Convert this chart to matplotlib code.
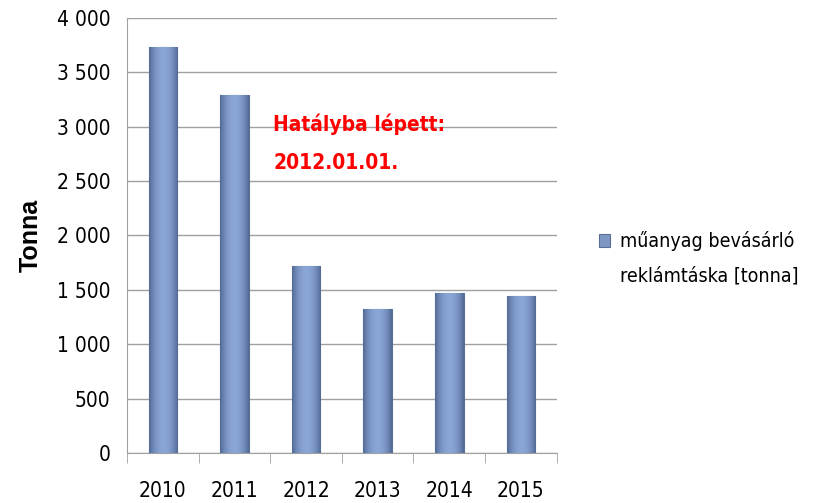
import matplotlib
matplotlib.use("Agg")
import matplotlib.pyplot as plt
from matplotlib import font_manager
from matplotlib.colors import LinearSegmentedColormap
from matplotlib.legend_handler import HandlerPatch
from matplotlib.patches import Rectangle
import numpy as np

years = ['2010', '2011', '2012', '2013', '2014', '2015']
tonna = [3730, 3290, 1720, 1325, 1470, 1445]
series_name = 'műanyag bevásárló\nreklámtáska [tonna]'
ytick_vals = [0, 500, 1000, 1500, 2000, 2500, 3000, 3500, 4000]
ytick_labels = ['0', '500', '1 000', '1 500', '2 000', '2 500', '3 000', '3 500', '4 000']

# narrow font like Calibri if one is there
fp = {'family': 'Liberation Sans', 'stretch': 'normal'}
for f in font_manager.fontManager.ttflist:
    if f.name == 'Liberation Sans Narrow':
        fp = {'family': 'Liberation Sans Narrow', 'stretch': 'normal'}
        break
    if f.name == 'DejaVu Sans' and f.stretch in ('condensed', 'semi-condensed'):
        fp = {'family': 'DejaVu Sans', 'stretch': 'condensed'}

fig = plt.figure(figsize=(8.15, 5.03), dpi=100)
ax = fig.add_axes([0.156, 0.0994, 0.527, 0.865])

x = np.arange(len(years))
bars = ax.bar(x, tonna, width=0.4, color='#7e98c6', edgecolor='#5a6f96', linewidth=0.8, zorder=3)

# horizontal shading on each bar
grad = np.linspace(0, 1, 64)
grad = 1 - 0.6 * (grad - 0.5) ** 2 * 4
grad = np.vstack([grad, grad])
cmap = LinearSegmentedColormap.from_list('b', ['#4f6590', '#8aa6d6'])
for b in bars:
    bx, by = b.get_x(), b.get_y()
    w, h = b.get_width(), b.get_height()
    im = ax.imshow(grad, extent=[bx, bx + w, by, by + h], aspect='auto', cmap=cmap,
                   vmin=0.35, vmax=1, zorder=3.5)
    im.set_clip_path(b)
ax.set_xlim(-0.5, 5.5)
ax.set_ylim(0, 4000)

ax.set_yticks(ytick_vals)
ax.set_yticklabels(ytick_labels, fontsize=15, **fp)
ax.set_xticks(x)
ax.set_xticklabels(years, fontsize=15, **fp)
ax.tick_params(axis='x', length=0, pad=20)
ax.set_xticks(np.arange(-0.5, 6, 1), minor=True)
ax.tick_params(axis='x', which='minor', length=7, color='#a0a0a0')
ax.tick_params(axis='y', length=0, pad=12)

ax.grid(axis='y', color='#a0a0a0', linewidth=1, zorder=0)
for s in ['top', 'right']:
    ax.spines[s].set_visible(False)
ax.spines['left'].set_color('#a0a0a0')
ax.spines['bottom'].set_color('#a0a0a0')

ax.set_ylabel('Tonna', fontsize=18, fontweight='bold', labelpad=10,
              family='Liberation Sans', fontstretch='normal')

ax.text(1.54, 3120, 'Hatályba lépett:\n2012.01.01.', color='#ff0000', fontsize=15,
        fontweight='bold', va='top', ha='left', linespacing=2.1, zorder=5, **fp)


def top_square(legend, orig_handle, xdescent, ydescent, width, height, fontsize):
    # put the key square next to the first line of the label
    return Rectangle((-xdescent, -ydescent + 13), width, height)


leg = ax.legend([bars[0]], [series_name], loc='center left', bbox_to_anchor=(1.075, 0.448),
                frameon=False, prop={'size': 14, **fp}, handlelength=0.6,
                handleheight=0.6, handletextpad=0.5, borderpad=0,
                handler_map={bars[0]: HandlerPatch(patch_func=top_square)})
for t in leg.get_texts():
    t.set_linespacing(2.0)

fig.savefig('out.png', dpi=100)
